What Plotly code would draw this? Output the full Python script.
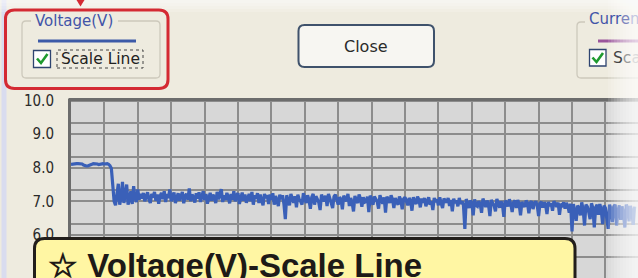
import plotly.graph_objects as go

# ---------------- data ----------------
voltage_plateau = [8.10, 8.11, 8.12, 8.12, 8.12, 8.12, 8.12, 8.11, 8.11, 8.08,
                   8.06, 8.05, 8.05, 8.06, 8.07, 8.10, 8.12, 8.12, 8.12, 8.11,
                   8.09, 8.10, 8.12, 8.12, 8.11, 8.12, 8.12, 8.10, 8.06, 7.98]
voltage_drop = [7.55, 7.00, 6.88, 7.30, 7.52, 6.90, 7.10, 7.58, 6.95, 7.20,
                7.50, 6.90, 7.05, 7.30, 6.92, 7.45, 7.10, 6.98, 7.35, 7.05]
voltage_mid1 = [7.22, 7.08, 7.25, 7.00, 7.18, 7.27, 7.05, 6.95, 7.22, 7.12,
                7.28, 7.02, 7.20, 6.93, 7.15, 7.25, 7.06, 7.30, 6.98, 7.22,
                7.10, 7.35, 7.00, 7.18, 7.26, 6.95, 7.14, 7.24, 7.02, 7.20,
                7.28, 6.94, 7.16, 7.22, 7.05, 7.38, 7.00, 7.20, 7.12, 6.96,
                7.24, 7.08, 7.27, 6.98, 7.18, 7.30, 7.04, 7.22, 6.93, 7.15,
                7.25, 7.02, 7.20, 7.10, 6.95, 7.28, 7.06, 7.22, 7.36, 6.98,
                7.18, 7.04, 7.25, 7.12, 6.94, 7.22, 7.05, 7.30, 7.00, 7.18,
                7.24, 6.92, 7.16, 7.26, 7.02, 7.20, 6.96, 7.14, 7.22, 7.00,
                7.28, 6.90, 7.18, 7.08, 7.24, 6.95, 7.20, 7.02, 6.88, 7.22,
                7.10, 7.18, 6.92, 7.20, 7.04, 7.24, 6.90, 7.16, 7.00, 6.86,
                7.20, 7.06, 7.18, 6.92]
voltage_dip1 = [6.47]
voltage_mid2 = [7.18, 7.02, 6.88, 7.22, 7.10, 6.96, 7.15, 6.82, 7.20, 7.05,
                7.00, 6.90, 7.24, 7.12, 6.95, 7.18, 7.04, 6.78, 7.12, 7.22,
                6.90, 7.15, 7.06, 6.97, 6.74, 7.20, 7.10, 7.00, 7.17, 6.86,
                7.22, 7.04, 6.95, 6.80, 7.14, 7.20, 7.02, 6.90, 7.12, 7.06,
                6.76, 7.17, 7.08, 7.00, 7.22, 6.86, 7.10, 6.96, 6.70, 7.16,
                7.04, 6.95, 7.20, 7.08, 6.84, 7.12, 6.97, 6.99, 7.14, 6.68,
                7.17, 7.02, 6.90, 7.14, 7.08, 6.99, 6.78, 7.18, 7.05, 6.93,
                7.12, 6.66, 7.14, 7.02, 6.95, 7.18, 7.06, 6.80, 7.10, 6.98,
                6.90, 7.14, 7.04, 6.76, 7.07, 7.12, 6.95, 6.88, 7.10, 7.02,
                6.72, 7.12, 7.00, 6.92, 7.14, 7.05, 6.82, 7.08, 6.96, 7.10,
                6.85, 7.04, 7.12, 6.90, 7.00, 6.74, 7.10, 6.98, 7.06, 6.88,
                7.12, 6.94, 6.80, 7.08, 7.02, 6.96, 7.10, 6.86, 7.04, 6.70,
                7.08, 6.95, 7.02, 6.85, 7.10, 6.92, 7.00, 6.88]
voltage_dip2 = [6.18]
voltage_mid3 = [7.07, 6.92, 6.80, 7.02, 6.95, 6.58, 7.06, 6.88, 6.85, 7.00,
                6.92, 6.66, 7.08, 6.96, 6.83, 7.02, 6.90, 6.56, 7.04, 6.94,
                6.87, 6.70, 7.07, 6.95, 6.81, 7.00, 6.90, 6.54, 7.02, 6.96,
                6.85, 7.06, 6.92, 6.68, 6.97, 7.02, 6.80, 7.04, 6.92, 6.58,
                6.98, 6.90, 6.83, 7.02, 6.95, 6.64, 6.96, 7.00, 6.77, 6.94,
                7.00, 6.88, 6.56, 6.94, 6.98, 6.81, 6.97, 6.90, 6.62, 6.98,
                6.86, 6.94, 6.72, 7.00, 6.90, 6.84, 6.96, 6.60, 6.92, 6.88,
                6.97, 6.78, 6.95, 6.86, 6.66, 6.93]
voltage_dip3 = [6.10]
voltage_end = [6.92, 6.70, 6.42, 6.87, 6.80, 6.58, 6.97, 6.75, 6.28, 6.90,
               6.84, 6.68, 6.47, 6.94, 6.80, 6.22, 6.82, 6.90, 6.60, 6.92,
               6.74, 6.32, 6.87, 6.80, 6.52, 6.18, 6.90, 6.78, 6.38, 6.84,
               6.90, 6.28, 6.72, 6.88, 6.45, 6.85, 6.62, 6.22, 6.90, 6.80,
               6.40, 6.86, 6.70, 6.30, 6.84]

voltage = (voltage_plateau + voltage_drop + voltage_mid1 + voltage_dip1 +
           voltage_mid2 + voltage_dip2 + voltage_mid3 + voltage_dip3 + voltage_end)
sample_no = list(range(len(voltage)))

y_tick_values = [6, 7, 8, 9, 10]
y_tick_labels = ["6.0", "7.0", "8.0", "9.0", "10.0"]
y_minor_values = [5.333, 6.333, 7.333, 8.333, 9.333]

group_title = "Voltage(V)"
group2_title = "Curr<span style='color:#7F86BE'>e</span><span style='color:#C4C7E2'>n</span>"
checkbox_text = "Scale Line"
button_text = "Close"
callout_text = "☆ Voltage(V)-Scale Line"

# ---------------- geometry helpers (pixel -> paper) ----------------
W, H = 638, 278
ML, MT = 71, 99
PW, PH = W - ML, H - MT
PX_PER_SAMPLE = 1.3917
PX_PER_VOLT = 33.6


def X(px):
    return (px - ML) / PW


def Y(py):
    return (H - py) / PH


def P(px, py):
    return f"{X(px):.5f},{Y(py):.5f}"


def rrect_path(x0, y0, x1, y1, r):
    return (f"M{P(x0 + r, y0)} L{P(x1 - r, y0)} Q{P(x1, y0)} {P(x1, y0 + r)} "
            f"L{P(x1, y1 - r)} Q{P(x1, y1)} {P(x1 - r, y1)} "
            f"L{P(x0 + r, y1)} Q{P(x0, y1)} {P(x0, y1 - r)} "
            f"L{P(x0, y0 + r)} Q{P(x0, y0)} {P(x0 + r, y0)} Z")


def groupbox_path(x0, y0, x1, y1, r, gap0, gap1):
    return (f"M{P(gap0, y0)} L{P(x0 + r, y0)} Q{P(x0, y0)} {P(x0, y0 + r)} "
            f"L{P(x0, y1 - r)} Q{P(x0, y1)} {P(x0 + r, y1)} "
            f"L{P(x1 - r, y1)} Q{P(x1, y1)} {P(x1, y1 - r)} "
            f"L{P(x1, y0 + r)} Q{P(x1, y0)} {P(x1 - r, y0)} L{P(gap1, y0)}")


def rect(x0, y0, x1, y1, **kw):
    d = dict(type="rect", xref="paper", yref="paper", layer="above",
             x0=X(x0), x1=X(x1), y0=Y(y1), y1=Y(y0))
    d.update(kw)
    return d


def pathshape(path, **kw):
    d = dict(type="path", xref="paper", yref="paper", layer="above", path=path)
    d.update(kw)
    return d


def line(x0, y0, x1, y1, color, width, dash="solid"):
    return dict(type="line", xref="paper", yref="paper", layer="above",
                x0=X(x0), x1=X(x1), y0=Y(y0), y1=Y(y1),
                line=dict(color=color, width=width, dash=dash))


BEIGE = "#EEEBDF"
UI_FONT = "DejaVu Sans, Verdana, sans-serif"

shapes = []
# left lavender strip
shapes.append(rect(1.5, 0, 6.5, 278, fillcolor="#D9DCEF", line=dict(width=0)))
# top light fade
for k in range(4):
    shapes.append(rect(0, 0, 638, 3 + 3 * k, fillcolor="white", opacity=0.18,
                       line=dict(width=0)))
# plot top frame
shapes.append(line(68.5, 99.5, 640, 99.5, "#6C6C6C", 3))

# voltage group box
shapes.append(pathshape(groupbox_path(22, 21, 160, 78, 4, 31, 118),
                        line=dict(color="#CDC9BC", width=1.3)))
shapes.append(line(38, 41, 136, 41, "#3C5AA8", 3))
shapes.append(rect(33.5, 50.5, 50.5, 67.5, fillcolor="white",
                   line=dict(color="#2E4470", width=1.3)))
shapes.append(pathshape(f"M{P(37, 58.5)} L{P(41, 63)} L{P(47.5, 54)}",
                        line=dict(color="#1F9A2F", width=2.6)))
shapes.append(rect(57, 50, 143, 68, line=dict(color="#444444", width=1, dash="dot")))

# red highlight
shapes.append(pathshape(rrect_path(5.5, 10, 168, 88.5, 9),
                        line=dict(color="#D42A33", width=3)))
shapes.append(pathshape(f"M{P(76.5, 0)} L{P(84.5, 0)} L{P(80.5, 6.5)} Z",
                        fillcolor="#D42A33", line=dict(width=0)))

# close button
shapes.append(pathshape(rrect_path(298.5, 25, 434, 67, 6), fillcolor="#F7F6F2",
                        line=dict(color="#3F526C", width=2)))

# current group box (cut by window)
shapes.append(pathshape(groupbox_path(577, 22, 700, 78, 4, 585, 700),
                        line=dict(color="#CDC9BC", width=1.3)))
shapes.append(line(598, 41, 660, 41, "#9A559B", 3))
shapes.append(rect(589.5, 49.5, 606, 66, fillcolor="white",
                   line=dict(color="#2E4470", width=1.3)))
shapes.append(pathshape(f"M{P(592.5, 57.5)} L{P(596.5, 62)} L{P(603, 53)}",
                        line=dict(color="#1F9A2F", width=2.6)))

# callout box
shapes.append(pathshape(rrect_path(34.5, 238.5, 575, 310, 10), fillcolor="#FFF6A3",
                        line=dict(color="#221E1B", width=3)))

# right fade
for k in range(10):
    shapes.append(rect(608 + 3 * k, 0, 640, 278, fillcolor="white", opacity=0.13,
                       line=dict(width=0)))

annotations = [
    dict(text=group_title, x=X(33), y=Y(21), xanchor="left", yanchor="middle",
         font=dict(family=UI_FONT, size=15, color="#4254A8")),
    dict(text=checkbox_text, x=X(59), y=Y(59), xanchor="left", yanchor="middle",
         font=dict(family=UI_FONT, size=15.5, color="#222222")),
    dict(text=button_text, x=X(366), y=Y(46), xanchor="center", yanchor="middle",
         font=dict(family=UI_FONT, size=16, color="#2A2A2A")),
    dict(text=group2_title, x=X(587), y=Y(19), xanchor="left", yanchor="middle",
         font=dict(family=UI_FONT, size=15, color="#4254A8")),
    dict(text="S<span style='color:#9A9A9A'>c</span><span style='color:#DDDDDD'>a</span>",
         x=X(611), y=Y(58), xanchor="left", yanchor="middle",
         font=dict(family=UI_FONT, size=15.5, color="#444444")),
    dict(text=f"<b>{callout_text}</b>", x=X(46), y=Y(265), xanchor="left", yanchor="middle",
         font=dict(family="Liberation Sans, Arial, sans-serif", size=33, color="#1E1A17")),
]
for a in annotations:
    a.update(xref="paper", yref="paper", showarrow=False)

fig = go.Figure(go.Scatter(x=sample_no, y=voltage, mode="lines",
                           line=dict(color="#3A60B8", width=3.2),
                           hoverinfo="skip"))

fig.update_layout(
    width=W, height=H,
    margin=dict(l=ML, r=0, t=MT, b=0, pad=0),
    paper_bgcolor=BEIGE, plot_bgcolor="#D7D7D7",
    showlegend=False,
    shapes=shapes, annotations=annotations,
    xaxis=dict(range=[0, PW / PX_PER_SAMPLE], tick0=0, dtick=24, showgrid=True,
               gridcolor="#8C8C8C", gridwidth=2, showticklabels=False,
               zeroline=False, ticks="", automargin=False, fixedrange=True),
    yaxis=dict(range=[10 - (H - MT - 1.5) / PX_PER_VOLT, 10 + 1.5 / PX_PER_VOLT],
               tickmode="array", tickvals=y_tick_values, ticktext=y_tick_labels,
               showgrid=True, gridcolor="#8C8C8C", gridwidth=2,
               minor=dict(tickmode="array", tickvals=y_minor_values, showgrid=True,
                          gridcolor="#8C8C8C", gridwidth=2),
               showline=True, linecolor="#6C6C6C", linewidth=3,
               ticks="", ticklabelstandoff=11, zeroline=False, automargin=False,
               tickfont=dict(family="DejaVu Sans Condensed, sans-serif",
                             size=15, color="#2A2A2A"),
               fixedrange=True),
)

fig.write_html("out.html",
               config={"displayModeBar": False, "staticPlot": True},
               post_script="document.body.style.margin='0';"
                           "document.body.style.overflow='hidden';")
